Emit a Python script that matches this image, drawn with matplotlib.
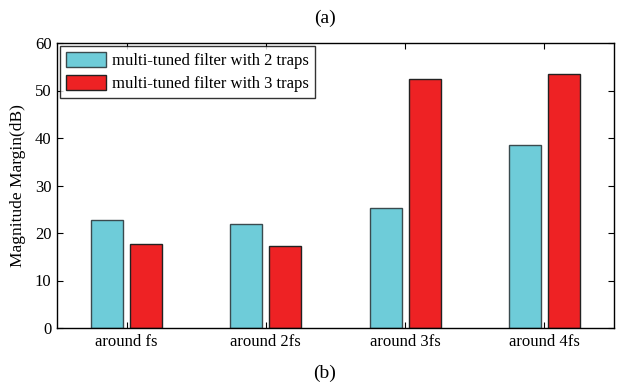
import matplotlib
matplotlib.use("Agg")
import matplotlib.pyplot as plt
import numpy as np

categories = ["around fs", "around 2fs", "around 3fs", "around 4fs"]
traps2 = [22.7, 21.8, 25.3, 38.6]
traps3 = [17.6, 17.3, 52.4, 53.5]
series_labels = ["multi-tuned filter with 2 traps", "multi-tuned filter with 3 traps"]
yticks = [0, 10, 20, 30, 40, 50, 60]

plt.rcParams['font.family'] = ['Liberation Serif', 'DejaVu Serif']

fig = plt.figure(figsize=(6.17, 3.85), dpi=100)
ax = fig.add_axes([57/617, 57/385, 557/617, 285/385])

x = np.arange(1, len(categories) + 1)
w = 0.23
ax.bar(x - 0.14, traps2, width=w, color="#6ECCD9", edgecolor="#3a4a4e", linewidth=1.0, label=series_labels[0])
ax.bar(x + 0.14, traps3, width=w, color="#EE2224", edgecolor="#222222", linewidth=1.0, label=series_labels[1])

ax.set_xlim(0.5, 4.5)
ax.set_ylim(0, 60)
ax.set_xticks(x)
ax.set_xticklabels(categories, fontsize=12)
ax.set_yticks(yticks)
ax.set_yticklabels([str(v) for v in yticks], fontsize=12)
ax.tick_params(direction="in", top=True, right=True, length=4, width=0.8, pad=4)
ax.set_ylabel("Magnitude Margin(dB)", fontsize=12.5, labelpad=6)
for s in ax.spines.values():
    s.set_linewidth(1.0)

leg = ax.legend(loc="upper left", fontsize=12, frameon=True, fancybox=False,
                edgecolor="black", borderaxespad=0.2, handlelength=2.4, handleheight=1.0,
                borderpad=0.35, labelspacing=0.32, handletextpad=0.35)
leg.get_frame().set_linewidth(1.0)

fig.text(325/617, 1 - 18/385, "(a)", ha="center", va="center", fontsize=14)
fig.text(325/617, 1 - 373/385, "(b)", ha="center", va="center", fontsize=14)

fig.savefig("out.png", dpi=100)
